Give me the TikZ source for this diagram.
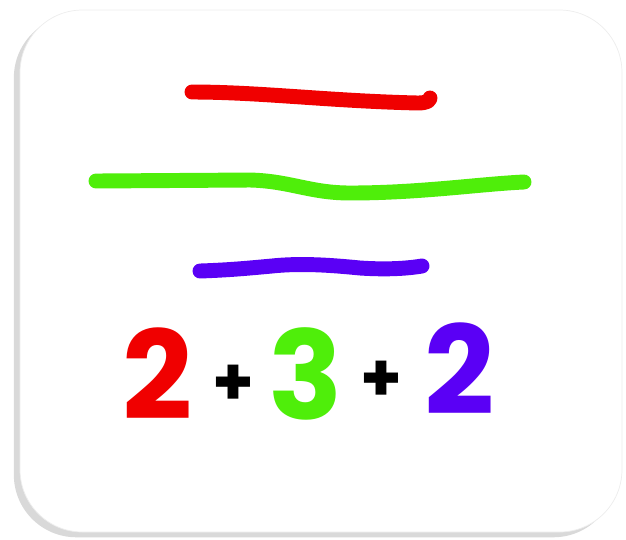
\documentclass[tikz,border=0pt]{standalone}
\usepackage{fontspec}
\usepackage{xcolor}
\usepackage{tikz}
\usetikzlibrary{shadows}
\newfontfamily\handfont{Poppins}
\definecolor{penred}{HTML}{F00000}
\definecolor{pengreen}{HTML}{4FEE0A}
\definecolor{penblue}{HTML}{5A00F5}
\definecolor{cardedge}{HTML}{EDEDED}
\tikzset{
  card/.style={fill=white, draw=cardedge, line width=0.4pt, rounded corners=1.25cm,
    drop shadow={shadow xshift=-3.5pt, shadow yshift=-3pt, opacity=0.25, fill=black!60}},
  pen/.style={line width=8.5pt, line cap=round, line join=round},
  digit/.style={font=\handfont\bfseries\fontsize{70}{70}\selectfont, inner sep=0pt, anchor=base},
  plus/.style={font=\handfont\bfseries\fontsize{38}{38}\selectfont, inner sep=0pt, text=black}
}

\begin{document}
\begin{tikzpicture}[x=0.02cm,y=-0.02cm]
  \useasboundingbox (0,0) rectangle (626,539);
  \path[card] (20,10) rectangle (622,532);

  % the three strokes
  \draw[pen, penred] (192,92) .. controls (260,92) and (330,101) .. (418,103)
    .. controls (426,103) and (430,101) .. (430,98);
  \draw[pen, pengreen] (96,181) -- (250,180) .. controls (290,181) and (310,193) .. (350,193)
    .. controls (420,193) and (480,184) .. (524,182);
  \draw[pen, penblue] (200,271) .. controls (230,270) and (250,268) .. (272,266)
    .. controls (300,263) and (330,265) .. (360,268) .. controls (390,270) and (410,268) .. (422,266);

  % sum below
  \node[digit, text=penred] (two1) at (158,419) {2};
  \node[plus] (plus1) at (233,385) {+};
  \node[digit, text=pengreen] (three) at (306,419) {3};
  \node[plus] (plus2) at (381,381) {+};
  \node[digit, text=penblue] (two2) at (460,414) {2};
\end{tikzpicture}
\end{document}
